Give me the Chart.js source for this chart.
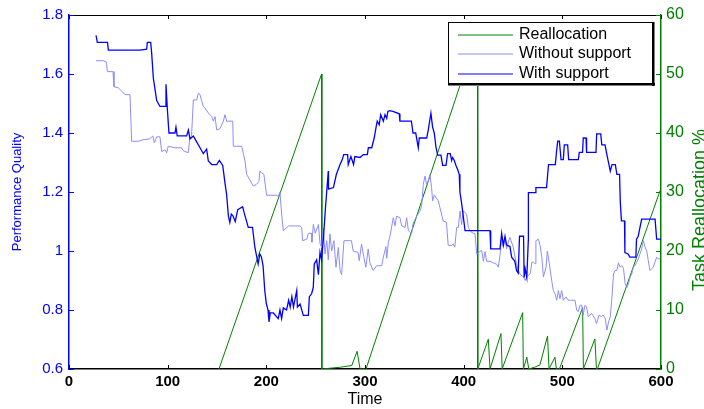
<!DOCTYPE html>
<html><head><meta charset="utf-8">
<script src="https://cdn.jsdelivr.net/npm/chart.js@4/dist/chart.umd.min.js"></script>
<style>html,body{margin:0;padding:0;background:#fff}canvas{display:block}</style>
</head><body>
<canvas id="c" width="704" height="409"></canvas>
<script>
// ---- tick labels / titles ----
const xTicks = [0, 100, 200, 300, 400, 500, 600];
const leftTicks = [0.6, 0.8, 1, 1.2, 1.4, 1.6, 1.8];
const rightTicks = [0, 10, 20, 30, 40, 50, 60];
const seriesLabels = ['Reallocation', 'Without support', 'With support'];
const xTitle = 'Time';
const leftTitle = 'Performance Quality';
const rightTitle = 'Task Reallocation %';

// ---- With support (left axis) ----
const withT = [27.4,28.7,39,39.9,72,78.7,79.4,82.8,83.8,85.5,88.9,92.2,97.3,98.3,99.7,101.3,107.4,108.4,109.7,119.2,121,122.6,126,129.4,132.8,136.1,139.5,141.2,144.6,149.7,152.4,155.8,158.1,159.8,161.5,163,164.5,166,168.5,171,176,177.5,181.7,186,188.4,191.7,193.4,195,196.7,198.4,200,201.7,202.7,204,207.1,212.1,213.8,215.5,217.2,220.5,222.6,224.2,225.9,227.5,230.8,231.5,234.2,237.5,242.6,243.6,245.9,247.6,248.6,251,252.8,254.4,256,258,260,262.8,263,268,271,274.7,277,278.4,282.4,283,285.7,288.4,289.7,294.9,298.3,302.4,303.4,306.8,309.3,311.1,312.4,314.4,315.9,318.6,320.3,322,323.2,324.9,328.3,334.7,335.4,345,347,348.7,351.4,352.3,354,355,362.5,364.1,366.8,368.5,370.2,372,373.7,377,378.7,382.1,383.7,386.4,387.8,388.8,390.5,392.2,393.9,395.5,396.2,398,401.4,403,404.7,426.7,427.4,436.8,438.5,440.2,441.9,443.5,446.9,448.6,451.9,453.6,455.3,456.6,460.7,461.3,462.3,464,465.5,465.6,473,473.2,484,486,492.9,494,495.3,497,498.7,501,502,505.4,506.4,516.2,517.2,520.5,521.2,524,524.6,534.1,534.8,538.9,540,543.3,545.2,548.6,550.3,553.7,555.3,558,558.7,559.9,563,563.4,566.7,568.4,574.5,575.2,576.9,580.4,594,595.6,600];
const withV = [1.731,1.707,1.707,1.681,1.681,1.684,1.707,1.707,1.67,1.585,1.51,1.49,1.49,1.565,1.48,1.40,1.40,1.42,1.39,1.39,1.41,1.38,1.39,1.37,1.35,1.33,1.345,1.305,1.293,1.293,1.307,1.29,1.23,1.19,1.12,1.097,1.125,1.12,1.10,1.14,1.15,1.13,1.08,1.08,1.012,0.956,0.99,0.98,0.95,0.866,0.822,0.80,0.76,0.79,0.79,0.771,0.80,0.771,0.807,0.80,0.833,0.81,0.845,0.81,0.866,0.81,0.82,0.782,0.782,0.845,0.855,0.877,0.956,0.97,0.92,0.995,0.97,1.05,1.15,1.271,1.21,1.215,1.26,1.293,1.31,1.327,1.327,1.293,1.32,1.293,1.32,1.317,1.327,1.327,1.35,1.35,1.383,1.417,1.44,1.428,1.462,1.44,1.462,1.45,1.473,1.476,1.473,1.465,1.44,1.44,1.44,1.40,1.40,1.383,1.35,1.383,1.383,1.41,1.467,1.42,1.40,1.35,1.325,1.325,1.29,1.29,1.33,1.33,1.307,1.317,1.307,1.29,1.276,1.26,1.20,1.16,1.069,1.069,1.069,1.069,1.007,1.007,1.06,1.02,1.05,1.02,1.015,0.979,0.965,0.934,0.925,1.05,1.05,0.91,0.94,0.91,1.035,1.198,1.198,1.215,1.215,1.293,1.293,1.333,1.372,1.372,1.31,1.31,1.36,1.36,1.31,1.31,1.334,1.334,1.383,1.383,1.334,1.334,1.397,1.397,1.36,1.36,1.326,1.271,1.293,1.293,1.26,1.26,1.17,1.102,1.102,0.995,0.99,0.979,0.979,1.04,1.05,1.108,1.108,1.04,1.04];

// ---- Without support (left axis) ----
const woT = [27.4,35,38,38.8,44.6,45.6,50,54,56.8,61.8,63.5,70.2,75,81.7,85,86.5,88.9,92.2,93.9,97.3,99,100.6,107.4,114,115.8,120.8,122.5,124.2,126,129.4,131.1,132.8,134.4,136.1,137.8,141.2,144.6,146.3,148,149.7,153.1,156.4,158.1,159.8,166,166.5,175,176.7,178.4,180,183.4,186.7,190,192.5,193.5,195.2,197.5,200.3,210,212.1,213.8,215.5,217.2,222.6,234,235.8,236.8,241,242.6,246,246.2,247.6,249.6,252.8,254.4,256.1,257.8,259.5,261.2,262.8,264.5,266.2,268.5,270.6,273,274.7,276.3,278.7,283,286.3,288,293,294.2,296.5,298.9,300.9,303.2,305,308.3,311.7,316.9,318.6,321.2,322,323.7,325.3,328.7,330.4,332,335.4,337.2,340.6,342.2,344,347.3,348.4,349.7,352.3,355.7,357.4,359.1,360.8,362.5,364.1,365.8,367.5,368.5,370.2,374.3,379.2,382.6,384.3,387.6,389.3,391,392.9,394.6,396.3,397.9,399.6,403,404.7,408,411.5,413.2,414.9,418.3,420,421.6,423.3,426.7,430,433.4,435.1,436.8,438.5,440.2,441.9,443.5,445.2,446.9,450.3,452,453.6,455.3,457.6,460.7,462.3,464,467.4,469.1,470.7,472.4,473.2,475.8,477.5,479.2,480.8,483.5,484.8,486.8,489.2,490.9,492.6,494.3,496,497.6,499.3,501,503.7,506.1,509.4,512.8,514.5,516.2,517.9,519.6,521.2,522.9,524.6,526.3,529.6,533,534.6,537.3,539.7,541.4,543.5,545.2,546.9,548.6,550.3,551.9,553.6,555.3,556.9,558.6,560.3,562,563.7,565.4,567,568.7,570.4,572,573.7,575.4,577,578.7,580.4,582.1,583.8,585.4,587.1,588.8,590.5,592.2,593.9,595.6,597.2,599];
const woV = [1.645,1.645,1.64,1.608,1.608,1.557,1.553,1.54,1.53,1.53,1.372,1.372,1.377,1.38,1.39,1.367,1.387,1.387,1.337,1.343,1.333,1.355,1.35,1.35,1.34,1.333,1.383,1.39,1.512,1.512,1.535,1.53,1.51,1.49,1.485,1.468,1.456,1.44,1.456,1.41,1.415,1.44,1.462,1.44,1.44,1.355,1.355,1.33,1.305,1.26,1.24,1.22,1.226,1.235,1.27,1.265,1.26,1.189,1.189,1.185,1.20,1.125,1.069,1.085,1.085,1.08,1.035,1.04,1.06,1.06,1.03,1.09,1.06,1.09,1.025,1.012,1.078,0.99,1.035,0.97,1.058,1.00,1.035,0.945,1.012,0.934,0.92,1.035,1.035,1.035,1.00,0.995,0.967,1.024,0.978,0.945,1.007,0.96,0.934,0.95,0.95,0.979,1.015,0.975,1.03,1.05,1.113,1.085,1.118,1.113,1.085,1.08,1.113,1.069,1.058,1.09,1.10,1.118,1.135,1.153,1.226,1.254,1.226,1.237,1.26,1.215,1.17,1.19,1.17,1.102,1.097,1.02,1.018,1.024,1.013,1.08,1.08,1.136,1.09,1.136,1.125,1.08,1.063,1.058,0.99,0.995,1.002,0.965,0.998,0.965,0.965,0.96,0.955,0.945,0.985,1.046,1.013,1.046,1.007,1.03,1.046,1.013,0.98,0.957,0.934,0.92,0.912,0.90,0.912,0.923,0.962,0.962,0.957,1.035,1.04,1.018,0.979,0.912,0.945,1.0,0.957,0.90,0.866,0.855,0.833,0.866,0.838,0.866,0.833,0.844,0.833,0.833,0.833,0.80,0.794,0.816,0.816,0.783,0.816,0.81,0.777,0.788,0.771,0.754,0.783,0.777,0.783,0.771,0.732,0.76,0.777,0.844,0.923,0.934,0.934,0.96,0.945,0.951,0.94,0.889,0.876,0.889,0.912,0.923,0.945,0.951,0.962,0.973,0.99,1.007,1.035,1.013,1.002,0.968,0.934,0.94,0.945,0.962,0.979,0.973,0.973];

// ---- Reallocation % (right axis) ----
const reT = [152,256,256.3,275,286.6,292,295,301,414,414.3,425,426.7,437.8,439,459.8,460.5,464,466,472,477.3,485,486.5,492.5,494,497,520.6,521.3,533,534.6,535.5,599];
const reV = [0,50,0,0.3,0.6,3.0,0,0,57,0,5.06,0,6.0,0,9.55,0,2.0,0,0.3,0.7,5.6,0,2.0,0,0,10.4,0,5.1,0,0,30.2];

const FONT = "'Liberation Sans', Arial, Helvetica, sans-serif";
const BLUE = '#0000ff', LIGHT = '#8c8cff', GREEN = '#008000';

function pts(t, v) { return t.map((x, i) => ({ x: x, y: v[i] })); }

const decoPlugin = {
  id: 'deco',
  afterDraw(chart) {
    const { ctx, chartArea: a, scales } = chart;
    ctx.save();
    // top box line
    ctx.strokeStyle = '#000'; ctx.lineWidth = 1;
    ctx.beginPath(); ctx.moveTo(a.left, a.top + 0.5); ctx.lineTo(a.right, a.top + 0.5); ctx.stroke();
    // inward x ticks (bottom and top)
    scales.x.ticks.forEach(t => {
      const px = Math.round(scales.x.getPixelForValue(t.value)) + 0.5;
      ctx.beginPath();
      ctx.moveTo(px, a.bottom); ctx.lineTo(px, a.bottom - 4);
      ctx.moveTo(px, a.top); ctx.lineTo(px, a.top + 4);
      ctx.stroke();
    });
    // inward left ticks
    ctx.strokeStyle = BLUE;
    scales.y.ticks.forEach(t => {
      const py = Math.round(scales.y.getPixelForValue(t.value)) + 0.5;
      ctx.beginPath(); ctx.moveTo(a.left, py); ctx.lineTo(a.left + 5, py); ctx.stroke();
    });
    // inward right ticks
    ctx.strokeStyle = GREEN;
    scales.y2.ticks.forEach(t => {
      const py = Math.round(scales.y2.getPixelForValue(t.value)) + 0.5;
      ctx.beginPath(); ctx.moveTo(a.right, py); ctx.lineTo(a.right - 5, py); ctx.stroke();
    });
    // right axis title (reads bottom-to-top)
    ctx.save();
    ctx.translate(700, 210); ctx.rotate(-Math.PI / 2);
    ctx.textAlign = 'center'; ctx.textBaseline = 'middle';
    ctx.fillStyle = GREEN; ctx.font = '18px ' + FONT;
    ctx.fillText(rightTitle, 0, 0);
    ctx.restore();
    // legend box
    const bx = 448, by = 22, bw = 207, bh = 64;
    ctx.fillStyle = '#fff'; ctx.fillRect(bx, by, bw, bh);
    ctx.strokeStyle = '#000'; ctx.lineWidth = 1;
    ctx.strokeRect(bx + 0.5, by + 0.5, bw - 2, bh - 2);
    ctx.fillStyle = '#000';
    ctx.fillRect(bx + bw - 3, by, 2.5, bh);
    ctx.fillRect(bx, by + bh - 3, bw, 2.5);
    const order = [2, 1, 0]; // dataset indices for Reallocation, Without, With
    const rows = [35, 54, 74];
    ctx.font = '16px ' + FONT; ctx.textAlign = 'left'; ctx.textBaseline = 'middle';
    order.forEach((di, i) => {
      const ds = chart.data.datasets[di];
      ctx.strokeStyle = ds.borderColor; ctx.lineWidth = 1;
      ctx.beginPath(); ctx.moveTo(458, rows[i]); ctx.lineTo(513, rows[i]); ctx.stroke();
      ctx.fillStyle = '#000';
      ctx.fillText(ds.label, 519, rows[i]);
    });
    ctx.restore();
  }
};

new Chart(document.getElementById('c'), {
  type: 'line',
  data: {
    datasets: [
      { label: seriesLabels[2], data: pts(withT, withV), borderColor: BLUE, borderWidth: 1.3, yAxisID: 'y' },
      { label: seriesLabels[1], data: pts(woT, woV), borderColor: LIGHT, borderWidth: 1, yAxisID: 'y' },
      { label: seriesLabels[0], data: pts(reT, reV), borderColor: GREEN, borderWidth: 1, yAxisID: 'y2' }
    ]
  },
  options: {
    responsive: false,
    animation: false,
    devicePixelRatio: 1,
    layout: { padding: { top: 13, left: 0, right: 0, bottom: 0 } },
    elements: { point: { radius: 0 }, line: { tension: 0, fill: false } },
    plugins: { legend: { display: false }, tooltip: { enabled: false } },
    scales: {
      x: {
        type: 'linear', position: 'bottom', min: 0, max: 600,
        afterBuildTicks: s => { s.ticks = xTicks.map(v => ({ value: v })); },
        afterFit: s => { s.height = 40; },
        grid: { display: false, drawTicks: false },
        border: { color: '#000', width: 1.5 },
        ticks: { color: '#000', font: { family: FONT, size: 15, weight: 'bold' }, padding: 4, maxRotation: 0, autoSkip: false, callback: v => String(v) },
        title: { display: true, text: xTitle, color: '#000', font: { family: FONT, size: 16 }, padding: { top: 0, bottom: 0 } }
      },
      y: {
        type: 'linear', position: 'left', min: 0.6, max: 1.8,
        afterBuildTicks: s => { s.ticks = leftTicks.map(v => ({ value: v })); },
        afterFit: s => { s.width = 69; },
        grid: { display: false, drawTicks: false },
        border: { color: BLUE, width: 1.5 },
        ticks: { color: BLUE, font: { family: FONT, size: 15 }, padding: 6, callback: v => String(v) },
        title: { display: true, text: leftTitle, color: BLUE, font: { family: FONT, size: 13 }, padding: { top: 10, bottom: 0 } }
      },
      y2: {
        type: 'linear', position: 'right', min: 0, max: 60,
        afterBuildTicks: s => { s.ticks = rightTicks.map(v => ({ value: v })); },
        afterFit: s => { s.width = 43; },
        grid: { display: false, drawTicks: false },
        border: { color: GREEN, width: 1.5 },
        ticks: { color: GREEN, font: { family: FONT, size: 16 }, padding: 5, callback: v => String(v) }
      }
    }
  },
  plugins: [decoPlugin]
});
</script>
</body></html>
